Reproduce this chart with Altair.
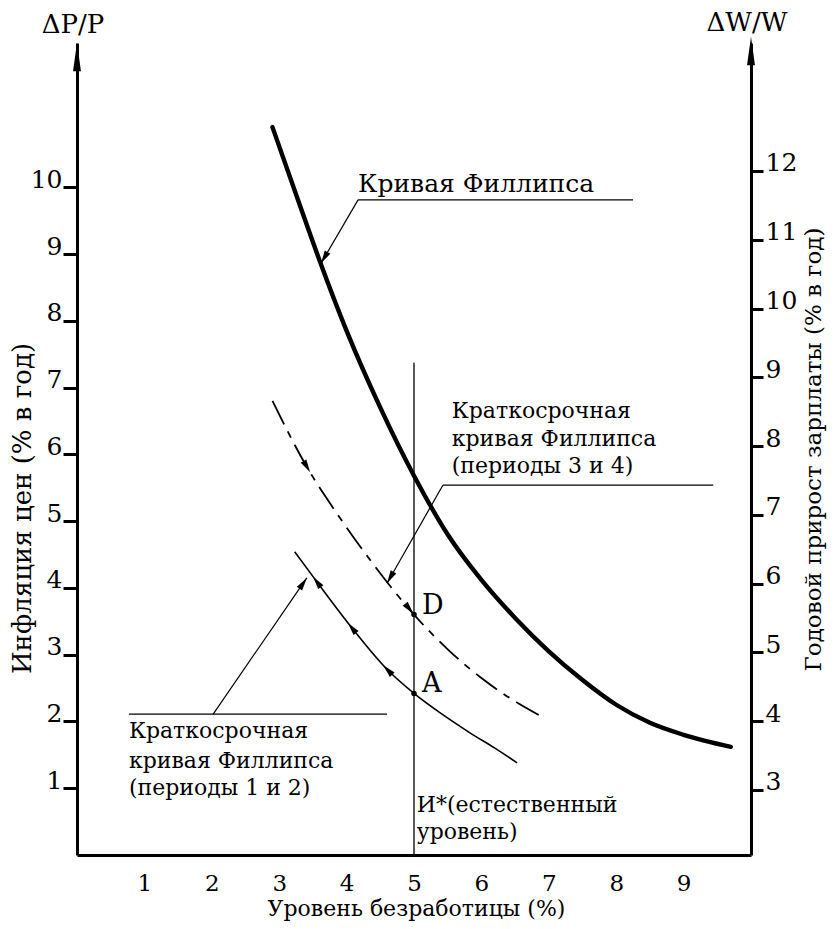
import math
import numpy as np
import pandas as pd
import altair as alt

FONT = "DejaVu Serif"

# ---------------- scales / ticks ----------------
x_domain = [0, 10]
p_domain = [0, 12.16]       # inflation (left axis)
w_domain = [2.055, 13.86]   # wage growth (right axis)
x_ticks = [1, 2, 3, 4, 5, 6, 7, 8, 9]
p_ticks = [1, 2, 3, 4, 5, 6, 7, 8, 9, 10]
w_ticks = [3, 4, 5, 6, 7, 8, 9, 10, 11, 12]

PLOT_W, PLOT_H = 674, 812
PX_X = PLOT_W / (x_domain[1] - x_domain[0])
PX_Y = PLOT_H / (p_domain[1] - p_domain[0])

# ---------------- curves ----------------
phillips_x = [2.9, 3.3, 3.6, 4.0, 4.5, 5.0, 5.5, 6.0, 6.5, 7.0, 7.5, 8.0, 8.5, 9.0, 9.7]
phillips_y = [10.9, 9.75, 8.9, 7.85, 6.7, 5.68, 4.8, 4.12, 3.55, 3.05, 2.62, 2.25, 1.98, 1.8, 1.62]
sr34_x = [2.9, 3.4, 3.9, 4.4, 5.0, 5.5, 6.0, 6.5, 6.9]
sr34_y = [6.8, 5.83, 5.05, 4.35, 3.6, 3.08, 2.65, 2.3, 2.07]
sr12_x = [3.23, 3.56, 4.08, 4.61, 5.0, 5.4, 5.83, 6.2, 6.53]
sr12_y = [4.54, 4.09, 3.40, 2.77, 2.42, 2.12, 1.83, 1.6, 1.38]

natural_x = 5.0
natural_top = 7.37

# points D and A
pt_names = ["D", "A"]
pt_x = [5.0, 5.0]
pt_y = [3.6, 2.42]

# leader lines / underlines (data units)
seg_x1 = [4.17, 4.17, 5.43, 5.43, 0.77, 2.02]
seg_y1 = [9.81, 9.81, 5.54, 5.54, 2.11, 2.11]
seg_x2 = [3.62, 8.25, 4.60, 9.44, 4.60, 3.41]
seg_y2 = [8.86, 9.81, 4.07, 5.54, 2.11, 4.15]
leader_idx = [0, 2, 5]

# arrows along the short-run curves
arr_curve = ["sr12", "sr12", "sr12", "sr34", "sr34"]
arr_at = [3.56, 4.08, 4.61, 3.41, 4.93]
arr_dir = [-1, -1, -1, 1, 1]

# text annotations
txt = ["Кривая Филлипса",
       "Краткосрочная", "кривая Филлипса", "(периоды 3 и 4)",
       "Краткосрочная", "кривая Филлипса", "(периоды 1 и 2)",
       "D", "A",
       "И*(естественный", "уровень)"]
txt_x = [4.17, 5.56, 5.56, 5.56, 0.77, 0.77, 0.77, 5.12, 5.12, 5.04, 5.04]
txt_y = [9.93, 6.54, 6.13, 5.72, 1.75, 1.30, 0.90, 3.61, 2.44, 0.65, 0.24]
txt_size = [25, 22, 22, 22, 22, 22, 22, 27, 27, 22, 22]

corner_txt = ["ΔP/P", "ΔW/W"]
corner_x = [-0.06, 9.94]
corner_y = [12.43, 12.46]

# ---------------- data frames ----------------
curves = {"phillips": (phillips_x, phillips_y), "sr34": (sr34_x, sr34_y), "sr12": (sr12_x, sr12_y)}

def df_line(name):
    xs, ys = curves[name]
    return pd.DataFrame({"x": xs, "y": ys})

seg_df = pd.DataFrame({"x": seg_x1, "y": seg_y1, "x2": seg_x2, "y2": seg_y2})

ARROW_PATH = "M0,-1L0.5,1L-0.5,1Z"
ARROW_SIZE = 170
half_len = math.sqrt(ARROW_SIZE) / 2

arrows = []
for i in leader_idx:
    dx = (seg_x2[i] - seg_x1[i]) * PX_X
    dy = (seg_y2[i] - seg_y1[i]) * PX_Y
    n = math.hypot(dx, dy)
    ang = math.degrees(math.atan2(dx, dy)) % 360
    cx = seg_x2[i] - dx / n * half_len / PX_X
    cy = seg_y2[i] - dy / n * half_len / PX_Y
    arrows.append({"x": cx, "y": cy, "angle": ang})
for c, a, d in zip(arr_curve, arr_at, arr_dir):
    xs, ys = curves[c]
    y0 = float(np.interp(a, xs, ys))
    slope = (float(np.interp(a + 0.05, xs, ys)) - float(np.interp(a - 0.05, xs, ys))) / 0.1
    dx = d * PX_X
    dy = d * slope * PX_Y
    ang = math.degrees(math.atan2(dx, dy)) % 360
    arrows.append({"x": a, "y": y0, "angle": ang})
arrow_df = pd.DataFrame(arrows)

axis_arrow_df = pd.DataFrame({"x": [x_domain[0], x_domain[1]],
                              "y": [p_domain[1] - 14 / PX_Y, p_domain[1] - 8 / PX_Y]})

pt_df = pd.DataFrame({"x": pt_x, "y": pt_y, "name": pt_names})
txt_df = pd.DataFrame({"x": txt_x, "y": txt_y, "text": txt, "size": txt_size})
corner_df = pd.DataFrame({"x": corner_x, "y": corner_y, "text": corner_txt})
nat_df = pd.DataFrame({"x": [natural_x], "y": [0.0], "y2": [natural_top]})
w_df = pd.DataFrame({"w": w_ticks})

# ---------------- axes ----------------
x_axis = alt.Axis(values=x_ticks, format="d", grid=False, ticks=False, tickSize=0,
                  domainColor="black", domainWidth=3,
                  labelFont=FONT, labelFontSize=23, labelColor="black",
                  labelPadding=35, labelBaseline="alphabetic", labelFlush=False,
                  title="Уровень безработицы (%)", titleFont=FONT, titleFontSize=22,
                  titleFontWeight="normal", titleColor="black",
                  titleX=339, titleY=60, titleAlign="center", titleBaseline="alphabetic")
p_axis = alt.Axis(values=p_ticks, format="d", grid=False, orient="left",
                  tickSize=14, tickWidth=3, tickColor="black",
                  domainColor="black", domainWidth=3,
                  labelFont=FONT, labelFontSize=25, labelColor="black",
                  labelPadding=1, labelBaseline="alphabetic", labelFlush=False,
                  title="Инфляция цен (% в год)", titleFont=FONT, titleFontSize=26,
                  titleFontWeight="normal", titleColor="black", titleAngle=270,
                  titleX=-55, titleY=465, titleAlign="center", titleBaseline="middle")
w_axis = alt.Axis(values=w_ticks, format="d", grid=False, orient="right",
                  tickSize=12, tickWidth=3, tickColor="black",
                  domainColor="black", domainWidth=3,
                  labelFont=FONT, labelFontSize=25, labelColor="black",
                  labelPadding=2, labelBaseline="alphabetic", labelFlush=False,
                  title="Годовой прирост зарплаты (% в год)", titleFont=FONT, titleFontSize=23,
                  titleFontWeight="normal", titleColor="black", titleAngle=270,
                  titleX=62, titleY=406, titleAlign="center", titleBaseline="middle")

X = alt.X("x:Q", scale=alt.Scale(domain=x_domain, nice=False, zero=False), axis=x_axis)
Y = alt.Y("y:Q", scale=alt.Scale(domain=p_domain, nice=False, zero=False), axis=p_axis)

# ---------------- layers ----------------
phillips = alt.Chart(df_line("phillips")).mark_line(
    color="black", strokeWidth=4.4, interpolate="monotone", strokeCap="round").encode(x=X, y=Y)
sr34 = alt.Chart(df_line("sr34")).mark_line(
    color="black", strokeWidth=1.8, interpolate="monotone", strokeDash=[26, 8, 7, 8]).encode(x=X, y=Y)
sr12 = alt.Chart(df_line("sr12")).mark_line(
    color="black", strokeWidth=1.6, interpolate="monotone").encode(x=X, y=Y)

natural = alt.Chart(nat_df).mark_rule(color="black", strokeWidth=1.3).encode(x=X, y=Y, y2="y2:Q")
segs = alt.Chart(seg_df).mark_rule(color="black", strokeWidth=1.2).encode(x=X, y=Y, x2="x2:Q", y2="y2:Q")

arrow_marks = alt.Chart(arrow_df).mark_point(
    shape=ARROW_PATH, filled=True, color="black", size=ARROW_SIZE, opacity=1, strokeWidth=0
).encode(x=X, y=Y, angle=alt.Angle("angle:Q", scale=None))

axis_arrows = alt.Chart(axis_arrow_df).mark_point(
    shape="M0,-1L0.28,1L-0.28,1Z", filled=True, color="black", size=800, opacity=1, strokeWidth=0
).encode(x=X, y=Y)

dots = alt.Chart(pt_df).mark_point(filled=True, color="black", size=30, opacity=1).encode(x=X, y=Y)

texts = alt.Chart(txt_df).mark_text(
    font=FONT, align="left", baseline="alphabetic", color="black"
).encode(x=X, y=Y, text="text:N", size=alt.Size("size:Q", scale=None, legend=None))

corners = alt.Chart(corner_df).mark_text(
    font=FONT, fontSize=26, align="center", baseline="middle", color="black"
).encode(x=X, y=Y, text="text:N")

left = alt.layer(phillips, sr34, sr12, natural, segs, arrow_marks, axis_arrows, dots, texts, corners)

right = alt.Chart(w_df).mark_point(opacity=0).encode(
    y=alt.Y("w:Q", scale=alt.Scale(domain=w_domain, nice=False, zero=False), axis=w_axis)
)

chart = alt.layer(left, right).resolve_scale(y="independent").properties(
    width=PLOT_W, height=PLOT_H,
    padding={"left": 69, "top": 35, "right": 77, "bottom": 66},
    autosize=alt.AutoSizeParams(type="none"),
    background="white",
).configure_view(stroke="transparent")

chart.save("out.html", embed_options={"renderer": "svg", "actions": False})
